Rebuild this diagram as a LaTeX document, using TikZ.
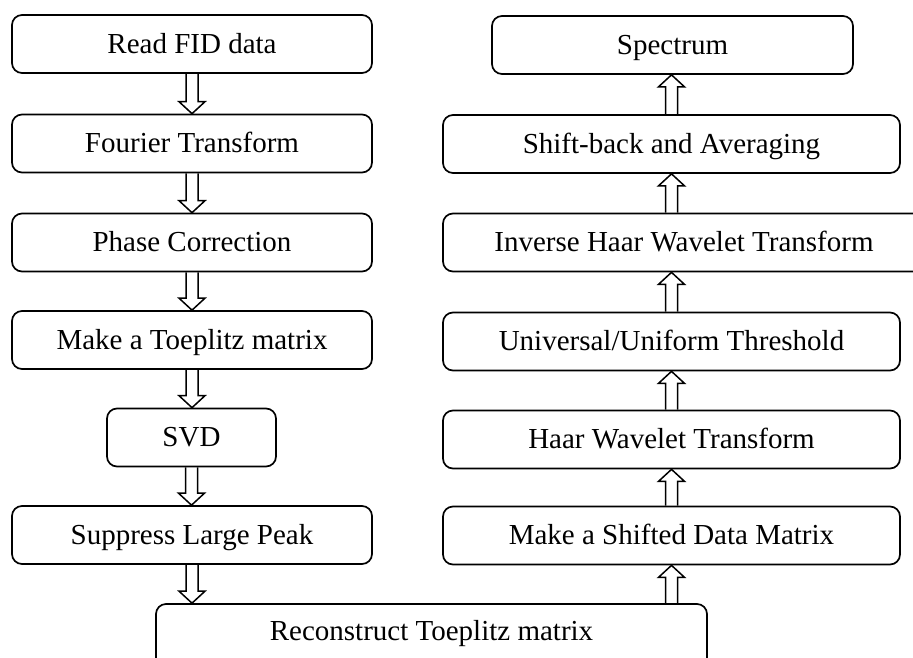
\documentclass[tikz,border=0pt]{standalone}
\usepackage{fontspec}
\setmainfont{Liberation Serif}
\usetikzlibrary{calc}
\tikzset{
  stepbox/.style={draw, line width=1.7pt, rounded corners=10pt,
    minimum height=58pt, text height=18.5pt, text depth=0pt, inner sep=0pt,
    font=\fontsize{29}{35}\selectfont},
  % hollow block arrow: two shaft lines and an open triangular head
  hollow/.style={line width=1.5pt, line join=miter,
    to path={let \p1=(\tikztostart), \p2=(\tikztotarget),
      \n1={sign(\y2-\y1)} in
      ({\x1-6pt},\y1) -- ({\x1-6pt},{\y2-(\n1)*12pt})
      -- ({\x1-13pt},{\y2-(\n1)*12pt}) -- (\x1,\y2)
      -- ({\x1+13pt},{\y2-(\n1)*12pt}) -- ({\x1+6pt},{\y2-(\n1)*12pt})
      -- ({\x1+6pt},\y1)}}
}
\begin{document}
\begin{tikzpicture}[x=1pt,y=-1pt]
\useasboundingbox (0,0) rectangle (913,657);
\clip (0,0) rectangle (913,657);

% left column: preprocessing
\node[stepbox, minimum width=360pt] (fid) at (192,44) {Read FID data};
\node[stepbox, minimum width=360pt] (ft) at (192,143.5) {Fourier Transform};
\node[stepbox, minimum width=360pt] (pc) at (192,242.5) {Phase Correction};
\node[stepbox, minimum width=360pt] (tm) at (192,340) {Make a Toeplitz matrix};
\node[stepbox, minimum width=169pt] (svd) at (191.5,437.5) {SVD};
\node[stepbox, minimum width=360pt] (sup) at (192,535) {Suppress Large Peak};
\node[stepbox, minimum width=551pt, minimum height=0pt, text height=36pt,
  text depth=40pt, anchor=base] (rec) at (431.5,640) {Reconstruct Toeplitz matrix};

% right column: wavelet denoising
\node[stepbox, minimum width=361pt] (spec) at (672.5,45) {Spectrum};
\node[stepbox, minimum width=457pt] (sb) at (671.5,144) {Shift-back and Averaging};
\node[stepbox, minimum width=482pt] (ihw) at (684,242.5) {Inverse Haar Wavelet Transform};
\node[stepbox, minimum width=457pt] (uu) at (671.5,341.5) {Universal/Uniform Threshold};
\node[stepbox, minimum width=457pt] (haar) at (671.5,439.5) {Haar Wavelet Transform};
\node[stepbox, minimum width=457pt] (shd) at (671.5,535.5) {Make a Shifted Data Matrix};

% flow arrows
\draw[hollow] (fid.south) to (ft.north);
\draw[hollow] (ft.south) to (pc.north);
\draw[hollow] (pc.south) to (tm.north);
\draw[hollow] (tm.south) to (svd.north);
\draw[hollow] (svd.south) to (sup.north);
\draw[hollow] (sup.south) to (sup.south |- rec.north);
\draw[hollow] (rec.north -| shd.south) to (shd.south);
\draw[hollow] (shd.north) to (haar.south);
\draw[hollow] (haar.north) to (uu.south);
\draw[hollow] (uu.north) to (uu.north |- ihw.south);
\draw[hollow] (ihw.north -| sb.south) to (sb.south);
\draw[hollow] (sb.north) to (sb.north |- spec.south);
\end{tikzpicture}
\end{document}
